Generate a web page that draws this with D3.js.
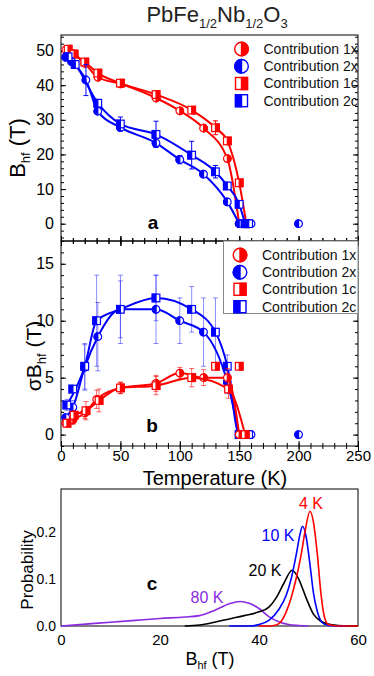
<!DOCTYPE html>
<html><head><meta charset="utf-8">
<script src="https://cdn.jsdelivr.net/npm/d3@7"></script>
<style>body{margin:0;background:#fff} svg{display:block;font-family:"Liberation Sans",Arial,sans-serif}</style>
</head><body><svg id="c" width="374" height="676"></svg>
<script>
// ---------- Panel a : B_hf vs T ----------
const Ta_1x = [4,10,20,31,50,80,100,120,140,150];
const Ba_1x = [50.2,49.1,46.3,42.3,40.4,36.3,32.6,27.6,18.8,0];
const Ea_1x = [0.5,0.5,0.8,0.8,0.6,0.8,0.6,0.6,0.8,0];
const Ta_1c = [6,11,20,31,50,80,110,130,140,150,156];
const Ba_1c = [50.4,49.0,46.7,43.5,40.6,37.3,32.8,27.7,23.9,11.8,0];
const Ea_1c = [0.5,0.5,0.8,0.8,0.6,0.8,0.8,2.0,0.8,0.8,0];
const Ta_2x = [4,9,21,31,50,80,100,120,140,150];
const Ba_2x = [48.1,46.8,41.5,32.5,27.8,23.3,18.5,14.3,6.3,0];
const Ea_2x = [0.5,0.5,4.5,0.8,1.0,0.8,1.2,0.8,0.8,0];
const Ta_2c = [6,12,31,50,80,110,130,140,150,155];
const Ba_2c = [48.2,46.0,34.8,28.8,25.8,19.8,15.0,10.9,5.6,0];
const Ea_2c = [0.5,0.8,0.8,2.0,3.8,4.0,1.8,1.0,0.8,0];
const Ta_2x_extra = [160,200];
const Ba_2x_extra = [0,0];
const Ta_2c_extra = [158];
const Ba_2c_extra = [0];

// ---------- Panel b : sigma B_hf vs T ----------
const Tb_1x = [4,10,20,30,50,80,100,120,140,150];
const Sb_1x = [1.0,1.3,1.9,3.1,4.1,4.5,5.4,5.0,5.0,0];
const Eb_1x = [0.3,0.4,0.5,0.8,0.5,0.7,0.5,0.7,0.8,0];
const Tb_1c = [5,11,21,32,50,80,110,141,155];
const Sb_1c = [1.0,1.7,2.1,3.0,4.1,4.3,5.0,4.0,0];
const Eb_1c = [0.3,0.4,0.8,1.0,0.5,0.8,0.8,0.8,0];
const Tb_1c_extra = [130,150];
const Sb_1c_extra = [6.0,6.0];
const Tb_2x = [4,10,20,31,50,80,100,120,140,150];
const Sb_2x = [1.5,2.4,5.9,8.6,11.0,11.0,10.0,9.0,4.6,0];
const Eb_2x = [0.3,0.6,2.0,3.0,2.5,3.0,2.0,3.0,1.0,0];
const Tb_2c = [5,20,30,50,80,110,130,140,150,155];
const Sb_2c = [2.6,6.0,10.0,11.0,12.0,11.0,9.0,6.0,0,0];
const Eb_2c = [0.5,2.0,4.0,3.0,2.0,2.0,3.0,1.0,0,0];
const Tb_2c_extra = [10,158];
const Sb_2c_extra = [4.0,0];
const Tb_2x_extra = [160,200];
const Sb_2x_extra = [0,0];

// ---------- Panel c : probability distributions ----------
const Bc_4K = [40,42,43.5,44.5,45.5,46.5,47.5,48.5,49.3,50.3,51,51.8,52.5,53.2,54,56,60];
const Pc_4K = [0,0,0.002,0.01,0.03,0.06,0.1,0.15,0.2,0.243,0.22,0.15,0.07,0.02,0.003,0,0];
const Bc_10K = [34,38,40,42,44,45.5,46.5,47.5,48.3,48.8,49.5,50.3,51,51.8,52.7,54,58];
const Pc_10K = [0,0,0.003,0.012,0.035,0.065,0.1,0.15,0.195,0.211,0.19,0.13,0.07,0.03,0.008,0.001,0];
const Bc_20K = [25,28,31,34,37,40,42,43.5,45,46.7,48,49.5,51,52.5,54,56,58,60];
const Pc_20K = [0,0.002,0.008,0.015,0.022,0.03,0.04,0.06,0.09,0.118,0.1,0.06,0.025,0.01,0.004,0.001,0,0];
const Bc_80K = [0,5,10,15,20,25,28,31,34,36.2,38,40,42,44,46,48,50];
const Pc_80K = [0,0.004,0.008,0.012,0.016,0.019,0.022,0.033,0.047,0.052,0.048,0.037,0.02,0.009,0.003,0.001,0];

const legendLabels = ["Contribution 1x","Contribution 2x","Contribution 1c","Contribution 2c"];
const xTicksT = [0,50,100,150,200,250];
const yTicksA = [0,10,20,30,40,50];
const yTicksB = [0,5,10,15];
const xTicksC = [0,20,40,60];
const yTicksC = [0.0,0.1,0.2];

const RED="#ff0000", BLUE="#0000ff", BLACK="#000000", PURPLE="#8a2be2";
const svg = d3.select("#c");

const L=61, R=358;
const xT = d3.scaleLinear().domain([0,250]).range([L,R]);
const yA = d3.scaleLinear().domain([-5,54.5]).range([241,35]);
const yB = d3.scaleLinear().domain([-1,17]).range([446,241]);
const xC = d3.scaleLinear().domain([0,60]).range([L,R]);
const yC = d3.scaleLinear().domain([0,0.29]).range([626,489]);

function frame(x0,x1,y0,y1){
  svg.append("rect").attr("x",x0).attr("y",y0).attr("width",x1-x0).attr("height",y1-y0)
    .attr("fill","none").attr("stroke","#000").attr("stroke-width",1);
}
function styleAxis(g){ g.select(".domain").remove(); g.selectAll("line").attr("stroke","#000"); }

function yAxes(y, major, minorStep, fmt, fs){
  const [d0,d1]=y.domain();
  const minors = d3.range(Math.ceil(d0/minorStep)*minorStep, d1+1e-9, minorStep);
  svg.append("g").attr("transform",`translate(${L},0)`).call(d3.axisLeft(y).tickValues(minors).tickSize(-3).tickFormat("")).call(styleAxis);
  svg.append("g").attr("transform",`translate(${L},0)`).call(d3.axisLeft(y).tickValues(major).tickSize(-5).tickPadding(7).tickFormat(fmt))
    .call(styleAxis).call(g=>g.selectAll("text").attr("font-size",fs).attr("font-family","Liberation Sans, Arial").attr("fill","#000"));
  svg.append("g").attr("transform",`translate(${R},0)`).call(d3.axisRight(y).tickValues(minors).tickSize(-3).tickFormat("")).call(styleAxis);
  svg.append("g").attr("transform",`translate(${R},0)`).call(d3.axisRight(y).tickValues(major).tickSize(-5).tickFormat("")).call(styleAxis);
}
function xTicks(x, y0, dir, major, minorStep){
  const [d0,d1]=x.domain();
  const minors = d3.range(d0, d1+1e-9, minorStep);
  const ax = dir>0? d3.axisTop : d3.axisBottom;
  svg.append("g").attr("transform",`translate(0,${y0})`).call(ax(x).tickValues(minors).tickSize(3).tickFormat("")).call(styleAxis)
    .call(g=>g.selectAll("line").attr("y2", dir>0? -3:3).attr("y1", dir>0? 3:-3));
  svg.append("g").attr("transform",`translate(0,${y0})`).call(ax(x).tickValues(major).tickSize(5).tickFormat("")).call(styleAxis)
    .call(g=>g.selectAll("line").attr("y2", dir>0? -5:5).attr("y1", dir>0? 5:-5));
}

function marker(g, shape, color, side, r, sw){
  if(shape==="c"){
    g.append("circle").attr("r",r).attr("fill","#fff").attr("stroke",color).attr("stroke-width",sw);
    const sweep = side==="right"?1:0;
    g.append("path").attr("d",`M0,${-r}A${r},${r} 0 0,${sweep} 0,${r}Z`).attr("fill",color).attr("stroke",color).attr("stroke-width",sw);
  } else {
    g.append("rect").attr("x",-r).attr("y",-r).attr("width",2*r).attr("height",2*r).attr("fill","#fff").attr("stroke",color).attr("stroke-width",sw);
    g.append("rect").attr("x",side==="right"?0:-r).attr("y",-r).attr("width",r).attr("height",2*r).attr("fill",color).attr("stroke",color).attr("stroke-width",sw);
  }
}

function series(x, y, Ts, Vs, Es, color, shape, side, errOpacity, extraT, extraV){
  const pts = Ts.map((t,i)=>({t, v:Vs[i], e:Es[i]}));
  const g = svg.append("g");
  pts.filter(p=>p.e>0).forEach(p=>{
    const eg=g.append("g").attr("stroke",color).attr("stroke-opacity",errOpacity).attr("stroke-width",1);
    eg.append("line").attr("x1",x(p.t)).attr("x2",x(p.t)).attr("y1",y(p.v-p.e)).attr("y2",y(p.v+p.e));
    [p.v-p.e,p.v+p.e].forEach(v=>eg.append("line").attr("x1",x(p.t)-2.5).attr("x2",x(p.t)+2.5).attr("y1",y(v)).attr("y2",y(v)));
  });
  g.append("path").datum(pts).attr("fill","none").attr("stroke",color).attr("stroke-width",2)
    .attr("d", d3.line().x(p=>x(p.t)).y(p=>y(p.v)).curve(d3.curveMonotoneX));
  const all = pts.concat((extraT||[]).map((t,i)=>({t, v:extraV[i]})));
  all.forEach(p=>{
    marker(g.append("g").attr("transform",`translate(${x(p.t)},${y(p.v)})`), shape, color, side, 3.8, 1.2);
  });
}

// ---------- Title ----------
const title = svg.append("text").attr("x",217).attr("y",22).attr("text-anchor","middle").attr("font-size",22).attr("fill","#222");
title.append("tspan").text("PbFe");
title.append("tspan").attr("font-size",13).attr("dy",6).text("1/2");
title.append("tspan").attr("dy",-6).text("Nb");
title.append("tspan").attr("font-size",13).attr("dy",6).text("1/2");
title.append("tspan").attr("dy",-6).text("O");
title.append("tspan").attr("font-size",13).attr("dy",6).text("3");

// ---------- Panel a ----------
frame(L,R,35,241);
yAxes(yA, yTicksA, 2, d3.format("d"), 16);
xTicks(xT, 241, 1, xTicksT, 10);
series(xT,yA,Ta_1x,Ba_1x,Ea_1x,RED,"c","right",1);
series(xT,yA,Ta_1c,Ba_1c,Ea_1c,RED,"s","right",1);
series(xT,yA,Ta_2x,Ba_2x,Ea_2x,BLUE,"c","left",1,Ta_2x_extra,Ba_2x_extra);
series(xT,yA,Ta_2c,Ba_2c,Ea_2c,BLUE,"s","left",1,Ta_2c_extra,Ba_2c_extra);
svg.append("text").attr("x",153).attr("y",229).attr("text-anchor","middle").attr("font-size",19).attr("font-weight","bold").text("a");
const la = svg.append("text").attr("transform","translate(25,148) rotate(-90)").attr("text-anchor","middle").attr("font-size",22).attr("fill","#000");
la.append("tspan").text("B");
la.append("tspan").attr("font-size",13).attr("dy",5).text("hf");
la.append("tspan").attr("dy",-5).text(" (T)");

function legend(x0, ys){
  const shapes=[["c",RED,"right"],["c",BLUE,"left"],["s",RED,"right"],["s",BLUE,"left"]];
  legendLabels.forEach((lab,i)=>{
    const [sh,col,side]=shapes[i];
    marker(svg.append("g").attr("transform",`translate(${x0},${ys[i]})`), sh, col, side, sh==="c"?6.8:6, 1.4);
    svg.append("text").attr("x",x0+22).attr("y",ys[i]).attr("dy","0.35em").attr("font-size",14).attr("fill","#111").text(lab);
  });
}
legend(241.5,[49,66.3,83.5,100.7]);

// ---------- Panel b ----------
frame(L,R,241,446);
yAxes(yB, yTicksB, 1, d3.format("d"), 16);
xTicks(xT, 241, -1, xTicksT, 10);
xTicks(xT, 446, 1, xTicksT, 10);
svg.append("g").attr("transform","translate(0,446)").call(d3.axisBottom(xT).tickValues(xTicksT).tickSize(0).tickPadding(4))
  .call(styleAxis).call(g=>g.selectAll("text").attr("font-size",15).attr("font-family","Liberation Sans, Arial").attr("fill","#000"));
series(xT,yB,Tb_2x,Sb_2x,Eb_2x,BLUE,"c","left",0.45,Tb_2x_extra,Sb_2x_extra);
series(xT,yB,Tb_2c,Sb_2c,Eb_2c,BLUE,"s","left",0.45,Tb_2c_extra,Sb_2c_extra);
series(xT,yB,Tb_1x,Sb_1x,Eb_1x,RED,"c","right",0.6);
series(xT,yB,Tb_1c,Sb_1c,Eb_1c,RED,"s","right",0.6,Tb_1c_extra,Sb_1c_extra);
svg.append("text").attr("x",152).attr("y",432).attr("text-anchor","middle").attr("font-size",19).attr("font-weight","bold").text("b");
const lb = svg.append("text").attr("transform","translate(41,356) rotate(-90)").attr("text-anchor","middle").attr("font-size",21).attr("fill","#000");
lb.append("tspan").text("σB");
lb.append("tspan").attr("font-size",13).attr("dy",5).text("hf");
lb.append("tspan").attr("dy",-5).text(" (T)");
svg.append("rect").attr("x",223.5).attr("y",241).attr("width",R-223.5).attr("height",72.5).attr("fill","#fff").attr("stroke","#888").attr("stroke-width",1);
legend(240,[255,272.3,289.3,306.7]);
svg.append("text").attr("x",215).attr("y",485).attr("text-anchor","middle").attr("font-size",20).attr("fill","#000").text("Temperature (K)");

// ---------- Panel c ----------
frame(L,R,489,626);
svg.append("g").attr("transform","translate(0,626)").call(d3.axisBottom(xC).tickValues(xTicksC).tickSize(0).tickPadding(8))
  .call(styleAxis).call(g=>g.selectAll("text").attr("font-size",15).attr("font-family","Liberation Sans, Arial").attr("fill","#000"));
svg.append("g").attr("transform",`translate(${L},0)`).call(d3.axisLeft(yC).tickValues(yTicksC).tickSize(0).tickPadding(5).tickFormat(d3.format(".1f")))
  .call(styleAxis).call(g=>g.selectAll("text").attr("font-size",14).attr("font-family","Liberation Sans, Arial").attr("fill","#000"));
const curves = [[Bc_80K,Pc_80K,PURPLE],[Bc_20K,Pc_20K,BLACK],[Bc_10K,Pc_10K,BLUE],[Bc_4K,Pc_4K,RED]];
curves.forEach(([B,P,col])=>{
  svg.append("path").datum(B.map((b,i)=>[b,P[i]])).attr("fill","none").attr("stroke",col).attr("stroke-width",1.6)
    .attr("d", d3.line().x(d=>xC(d[0])).y(d=>yC(d[1])).curve(d3.curveMonotoneX));
});
[["4 K",311,503,RED],["10 K",278,535,BLUE],["20 K",265,570,BLACK],["80 K",207,597,PURPLE]].forEach(([t,x,y,c])=>{
  svg.append("text").attr("x",x).attr("y",y).attr("dy","0.35em").attr("text-anchor","middle").attr("font-size",16).attr("fill",c).text(t);
});
svg.append("text").attr("x",152).attr("y",590).attr("text-anchor","middle").attr("font-size",19).attr("font-weight","bold").text("c");
svg.append("text").attr("transform","translate(33,570) rotate(-90)").attr("text-anchor","middle").attr("font-size",17).attr("fill","#000").text("Probability");
const lc = svg.append("text").attr("x",210).attr("y",665).attr("text-anchor","middle").attr("font-size",18).attr("fill","#000");
lc.append("tspan").text("B");
lc.append("tspan").attr("font-size",11).attr("dy",4).text("hf");
lc.append("tspan").attr("dy",-4).text(" (T)");
</script></body></html>
